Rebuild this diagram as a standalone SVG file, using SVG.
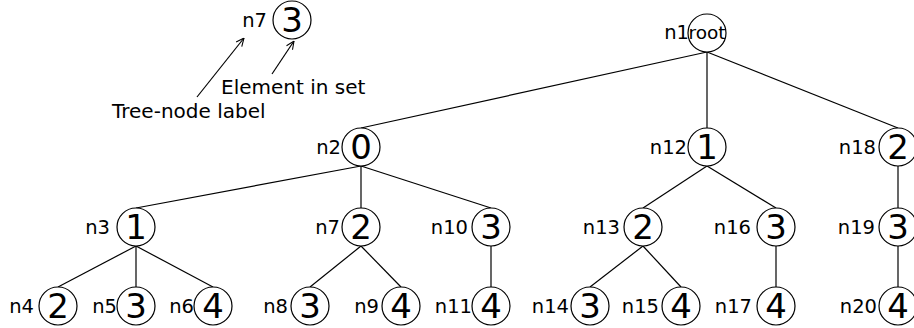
<svg xmlns="http://www.w3.org/2000/svg" width="914" height="328" viewBox="0 0 914 328">
<defs>
<style>
.c{fill:#fff;stroke:#000;stroke-width:1.2}
.e{stroke:#000;stroke-width:1.2;fill:none}
.v{font-family:"DejaVu Sans",sans-serif;font-size:34px;text-anchor:middle;fill:#000}
.r{font-family:"DejaVu Sans",sans-serif;font-size:18.5px;text-anchor:middle;fill:#000}
.l{font-family:"DejaVu Sans",sans-serif;font-size:19.5px;text-anchor:end;fill:#000}
.t{font-family:"DejaVu Sans",sans-serif;font-size:20px;fill:#000}
</style>
<marker id="ah" viewBox="0 0 10 10" refX="10" refY="5" markerWidth="9" markerHeight="9" orient="auto" markerUnits="userSpaceOnUse">
<path d="M1,1 L10,5 L1,9" fill="none" stroke="#000" stroke-width="1.2"/>
</marker>
</defs>
<rect width="914" height="328" fill="#fff"/>
<g id="connectors">
<line class="e" x1="707" y1="52" x2="361" y2="128"/>
<line class="e" x1="707" y1="52" x2="707" y2="128"/>
<line class="e" x1="707" y1="52" x2="898" y2="128"/>
<line class="e" x1="361" y1="166" x2="136" y2="208"/>
<line class="e" x1="361" y1="166" x2="361" y2="208"/>
<line class="e" x1="361" y1="166" x2="491" y2="208"/>
<line class="e" x1="707" y1="166" x2="643" y2="208"/>
<line class="e" x1="707" y1="166" x2="776" y2="208"/>
<line class="e" x1="898" y1="166" x2="898" y2="208"/>
<line class="e" x1="136" y1="246" x2="58" y2="287"/>
<line class="e" x1="136" y1="246" x2="136" y2="287"/>
<line class="e" x1="136" y1="246" x2="213" y2="287"/>
<line class="e" x1="361" y1="246" x2="310" y2="287"/>
<line class="e" x1="361" y1="246" x2="401" y2="287"/>
<line class="e" x1="491" y1="246" x2="491" y2="287"/>
<line class="e" x1="643" y1="246" x2="590" y2="287"/>
<line class="e" x1="643" y1="246" x2="681" y2="287"/>
<line class="e" x1="776" y1="246" x2="776" y2="287"/>
<line class="e" x1="898" y1="246" x2="898" y2="287"/>
<line class="e" x1="197" y1="97" x2="244" y2="38" marker-end="url(#ah)"/>
<line class="e" x1="272" y1="74" x2="294" y2="41" marker-end="url(#ah)"/>
</g>
<g id="legend">
<circle class="c" cx="292" cy="20" r="19"/>
<text class="v" x="292" y="32">3</text>
<text class="l" x="267" y="27">n7</text>
<text class="t" x="221" y="94">Element in set</text>
<text class="t" x="112" y="118">Tree-node label</text>
</g>
<g id="n1"><circle class="c" cx="707" cy="33" r="19"/><text class="r" x="707" y="39">root</text><text class="l" x="689" y="39">n1</text></g>
<g id="n2"><circle class="c" cx="361" cy="147" r="19"/><text class="v" x="361" y="159">0</text><text class="l" x="341" y="154">n2</text></g>
<g id="n12"><circle class="c" cx="707" cy="147" r="19"/><text class="v" x="707" y="159">1</text><text class="l" x="687" y="154">n12</text></g>
<g id="n18"><circle class="c" cx="898" cy="147" r="19"/><text class="v" x="898" y="159">2</text><text class="l" x="876" y="154">n18</text></g>
<g id="n3"><circle class="c" cx="136" cy="227" r="19"/><text class="v" x="136" y="239">1</text><text class="l" x="110" y="234">n3</text></g>
<g id="n7"><circle class="c" cx="361" cy="227" r="19"/><text class="v" x="361" y="239">2</text><text class="l" x="340" y="234">n7</text></g>
<g id="n10"><circle class="c" cx="491" cy="227" r="19"/><text class="v" x="491" y="239">3</text><text class="l" x="468" y="234">n10</text></g>
<g id="n13"><circle class="c" cx="643" cy="227" r="19"/><text class="v" x="643" y="239">2</text><text class="l" x="620" y="234">n13</text></g>
<g id="n16"><circle class="c" cx="776" cy="227" r="19"/><text class="v" x="776" y="239">3</text><text class="l" x="751" y="234">n16</text></g>
<g id="n19"><circle class="c" cx="898" cy="227" r="19"/><text class="v" x="898" y="239">3</text><text class="l" x="875" y="234">n19</text></g>
<g id="n4"><circle class="c" cx="58" cy="306" r="19"/><text class="v" x="58" y="318">2</text><text class="l" x="34" y="313">n4</text></g>
<g id="n5"><circle class="c" cx="136" cy="306" r="19"/><text class="v" x="136" y="318">3</text><text class="l" x="117" y="313">n5</text></g>
<g id="n6"><circle class="c" cx="213" cy="306" r="19"/><text class="v" x="213" y="318">4</text><text class="l" x="194" y="313">n6</text></g>
<g id="n8"><circle class="c" cx="310" cy="306" r="19"/><text class="v" x="310" y="318">3</text><text class="l" x="288" y="313">n8</text></g>
<g id="n9"><circle class="c" cx="401" cy="306" r="19"/><text class="v" x="401" y="318">4</text><text class="l" x="379" y="313">n9</text></g>
<g id="n11"><circle class="c" cx="491" cy="306" r="19"/><text class="v" x="491" y="318">4</text><text class="l" x="472" y="313">n11</text></g>
<g id="n14"><circle class="c" cx="590" cy="306" r="19"/><text class="v" x="590" y="318">3</text><text class="l" x="569" y="313">n14</text></g>
<g id="n15"><circle class="c" cx="681" cy="306" r="19"/><text class="v" x="681" y="318">4</text><text class="l" x="659" y="313">n15</text></g>
<g id="n17"><circle class="c" cx="776" cy="306" r="19"/><text class="v" x="776" y="318">4</text><text class="l" x="752" y="313">n17</text></g>
<g id="n20"><circle class="c" cx="898" cy="306" r="19"/><text class="v" x="898" y="318">4</text><text class="l" x="877" y="313">n20</text></g>
</svg>
